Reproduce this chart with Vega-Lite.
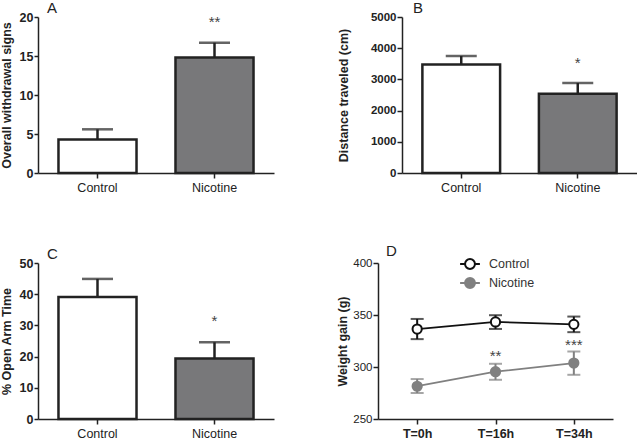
{
  "$schema": "https://vega.github.io/schema/vega-lite/v6.json",
  "padding": {"left": 0, "top": 1, "right": 0, "bottom": 0},
  "background": "white",
  "spacing": 50,
  "resolve": {"scale": {"stroke": "independent", "fill": "independent"}},
  "vconcat": [
    {
      "spacing": 63,
      "hconcat": [
        {
          "width": 236, "height": 156,
          "title": {"text": "A", "dx": 9},
          "data": {"values": [
            {"group": "Control", "mean": 4.3, "upper": 5.6},
            {"group": "Nicotine", "mean": 14.8, "upper": 16.7, "star": "**", "starY": 19.6}
          ]},
          "encoding": {"x": {"field": "group", "type": "nominal", "sort": null, "scale": {"paddingInner": 0.333, "paddingOuter": 0.175}, "axis": {"title": null}}},
          "layer": [
            {"mark": {"type": "rule", "strokeWidth": 2.5, "color": "#222"},
             "encoding": {"y": {"field": "mean", "type": "quantitative", "scale": {"domain": [0, 20], "nice": false}, "axis": {"title": "Overall withdrawal signs", "values": [0, 5, 10, 15, 20]}}, "y2": {"field": "upper"}}},
            {"mark": {"type": "tick", "size": 31, "thickness": 2.5, "color": "#222"},
             "encoding": {"y": {"field": "upper", "type": "quantitative", "axis": {"title": "Overall withdrawal signs", "values": [0, 5, 10, 15, 20]}}}},
            {"mark": {"type": "bar", "stroke": "#222", "strokeWidth": 2.5},
             "encoding": {
               "y": {"field": "mean", "type": "quantitative", "axis": {"title": "Overall withdrawal signs", "values": [0, 5, 10, 15, 20]}},
               "fill": {"condition": {"test": "datum.group === 'Nicotine'", "value": "#78787a"}, "value": "#ffffff"}
             }},
            {"mark": {"type": "text", "fontSize": 15, "color": "#444", "baseline": "middle", "dy": 2},
             "encoding": {"y": {"field": "starY", "type": "quantitative", "axis": {"title": "Overall withdrawal signs", "values": [0, 5, 10, 15, 20]}}, "text": {"field": "star"}}}
          ]
        },
        {
          "width": 235, "height": 156,
          "title": {"text": "B", "dx": 11},
          "data": {"values": [
            {"group": "Control", "mean": 3480, "upper": 3750},
            {"group": "Nicotine", "mean": 2540, "upper": 2885, "star": "*", "starY": 3600}
          ]},
          "encoding": {"x": {"field": "group", "type": "nominal", "sort": null, "scale": {"paddingInner": 0.333, "paddingOuter": 0.175}, "axis": {"title": null}}},
          "layer": [
            {"mark": {"type": "rule", "strokeWidth": 2.5, "color": "#222"},
             "encoding": {"y": {"field": "mean", "type": "quantitative", "scale": {"domain": [0, 5000], "nice": false}, "axis": {"title": "Distance traveled (cm)", "values": [0, 1000, 2000, 3000, 4000, 5000], "format": "d", "labelFontSize": 11.5, "tickSize": 5, "titlePadding": 20}}, "y2": {"field": "upper"}}},
            {"mark": {"type": "tick", "size": 31, "thickness": 2.5, "color": "#222"},
             "encoding": {"y": {"field": "upper", "type": "quantitative", "axis": {"title": "Distance traveled (cm)", "values": [0, 1000, 2000, 3000, 4000, 5000], "format": "d", "labelFontSize": 11.5, "tickSize": 5, "titlePadding": 20}}}},
            {"mark": {"type": "bar", "stroke": "#222", "strokeWidth": 2.5},
             "encoding": {
               "y": {"field": "mean", "type": "quantitative", "axis": {"title": "Distance traveled (cm)", "values": [0, 1000, 2000, 3000, 4000, 5000], "format": "d", "labelFontSize": 11.5, "tickSize": 5, "titlePadding": 20}},
               "fill": {"condition": {"test": "datum.group === 'Nicotine'", "value": "#78787a"}, "value": "#ffffff"}
             }},
            {"mark": {"type": "text", "fontSize": 15, "color": "#444", "baseline": "middle", "dy": 2},
             "encoding": {"y": {"field": "starY", "type": "quantitative", "axis": {"title": "Distance traveled (cm)", "values": [0, 1000, 2000, 3000, 4000, 5000], "format": "d", "labelFontSize": 11.5, "tickSize": 5, "titlePadding": 20}}, "text": {"field": "star"}}}
          ]
        }
      ]
    },
    {
      "spacing": 62,
      "resolve": {"scale": {"stroke": "independent", "fill": "independent"}},
      "hconcat": [
        {
          "width": 236, "height": 156,
          "title": {"text": "C", "dx": 9},
          "data": {"values": [
            {"group": "Control", "mean": 39.1, "upper": 44.9},
            {"group": "Nicotine", "mean": 19.4, "upper": 24.6, "star": "*", "starY": 32.1}
          ]},
          "encoding": {"x": {"field": "group", "type": "nominal", "sort": null, "scale": {"paddingInner": 0.333, "paddingOuter": 0.175}, "axis": {"title": null}}},
          "layer": [
            {"mark": {"type": "rule", "strokeWidth": 2.5, "color": "#222"},
             "encoding": {"y": {"field": "mean", "type": "quantitative", "scale": {"domain": [0, 50], "nice": false}, "axis": {"title": "% Open Arm Time", "values": [0, 10, 20, 30, 40, 50]}}, "y2": {"field": "upper"}}},
            {"mark": {"type": "tick", "size": 31, "thickness": 2.5, "color": "#222"},
             "encoding": {"y": {"field": "upper", "type": "quantitative", "axis": {"title": "% Open Arm Time", "values": [0, 10, 20, 30, 40, 50]}}}},
            {"mark": {"type": "bar", "stroke": "#222", "strokeWidth": 2.5},
             "encoding": {
               "y": {"field": "mean", "type": "quantitative", "axis": {"title": "% Open Arm Time", "values": [0, 10, 20, 30, 40, 50]}},
               "fill": {"condition": {"test": "datum.group === 'Nicotine'", "value": "#78787a"}, "value": "#ffffff"}
             }},
            {"mark": {"type": "text", "fontSize": 15, "color": "#444", "baseline": "middle", "dy": 2},
             "encoding": {"y": {"field": "starY", "type": "quantitative", "axis": {"title": "% Open Arm Time", "values": [0, 10, 20, 30, 40, 50]}}, "text": {"field": "star"}}}
          ]
        },
        {
          "width": 235, "height": 156,
          "title": {"text": "D", "dx": 8},
          "data": {"values": [
            {"time": "T=0h", "group": "Control", "mean": 336.5, "lo": 326.8, "hi": 346.2},
            {"time": "T=16h", "group": "Control", "mean": 343.3, "lo": 336.6, "hi": 349.8},
            {"time": "T=34h", "group": "Control", "mean": 341.0, "lo": 333.5, "hi": 348.5},
            {"time": "T=0h", "group": "Nicotine", "mean": 281.5, "lo": 275.0, "hi": 288.4},
            {"time": "T=16h", "group": "Nicotine", "mean": 295.5, "lo": 287.7, "hi": 303.1, "star": "**", "starY": 312.7},
            {"time": "T=34h", "group": "Nicotine", "mean": 303.8, "lo": 292.5, "hi": 314.9, "star": "***", "starY": 322.6}
          ]},
          "encoding": {"x": {"field": "time", "type": "ordinal", "sort": ["T=0h", "T=16h", "T=34h"], "scale": {"type": "point", "padding": 0.5}, "axis": {"title": null, "labelFontWeight": "bold"}}},
          "layer": [
            {"mark": {"type": "line", "strokeWidth": 1.8},
             "encoding": {
               "y": {"field": "mean", "type": "quantitative", "scale": {"domain": [250, 400], "nice": false, "zero": false}, "axis": {"title": "Weight gain (g)", "values": [250, 300, 350, 400], "labelFontWeight": "normal", "labelFontSize": 11.5, "tickSize": 5, "titlePadding": 3}},
               "stroke": {"field": "group", "type": "nominal", "scale": {"domain": ["Control", "Nicotine"], "range": ["#111111", "#808080"]},
                 "legend": {"title": null, "orient": "none", "legendX": 82, "legendY": -9, "symbolType": "M-1.1,0L-0.55,0M0.55,0L1.1,0M-0.55,0A0.55,0.55 0 1,1 0.55,0A0.55,0.55 0 1,1 -0.55,0Z", "symbolSize": 324, "symbolStrokeWidth": 2, "labelFontSize": 12.5, "labelFont": "Liberation Sans", "labelColor": "#333", "labelOffset": 9, "rowPadding": 0}}
             }},
            {"mark": {"type": "rule", "strokeWidth": 2},
             "encoding": {"y": {"field": "lo", "type": "quantitative"}, "y2": {"field": "hi"},
               "color": {"condition": {"test": "datum.group === 'Control'", "value": "#111111"}, "value": "#808080"}}},
            {"mark": {"type": "tick", "size": 13, "thickness": 2},
             "encoding": {"y": {"field": "lo", "type": "quantitative"},
               "color": {"condition": {"test": "datum.group === 'Control'", "value": "#111111"}, "value": "#808080"}}},
            {"mark": {"type": "tick", "size": 13, "thickness": 2},
             "encoding": {"y": {"field": "hi", "type": "quantitative"},
               "color": {"condition": {"test": "datum.group === 'Control'", "value": "#111111"}, "value": "#808080"}}},
            {"mark": {"type": "point", "shape": "circle", "size": 85, "strokeWidth": 2, "opacity": 1},
             "encoding": {
               "y": {"field": "mean", "type": "quantitative"},
               "stroke": {"field": "group", "type": "nominal"},
               "fill": {"field": "group", "type": "nominal", "scale": {"domain": ["Control", "Nicotine"], "range": ["#ffffff", "#808080"]},
                 "legend": {"title": null, "orient": "none", "legendX": 82, "legendY": -9, "symbolType": "M-1.1,0L-0.55,0M0.55,0L1.1,0M-0.55,0A0.55,0.55 0 1,1 0.55,0A0.55,0.55 0 1,1 -0.55,0Z", "symbolSize": 324, "symbolStrokeWidth": 2, "labelFontSize": 12.5, "labelFont": "Liberation Sans", "labelColor": "#333", "labelOffset": 9, "rowPadding": 0}}
             }},
            {"mark": {"type": "text", "fontSize": 15, "color": "#444", "baseline": "middle", "dy": 2},
             "encoding": {"y": {"field": "starY", "type": "quantitative"}, "text": {"field": "star"}}}
          ]
        }
      ]
    }
  ],
  "config": {
    "view": {"stroke": null},
    "font": "Liberation Sans",
    "axis": {"grid": false, "domainColor": "#222", "domainWidth": 1.5, "tickColor": "#222", "tickWidth": 1.5, "labelFont": "Liberation Sans", "labelFontSize": 12.5, "labelColor": "#222", "titleFont": "Liberation Sans", "titleFontSize": 12.5, "titleFontWeight": "bold", "titleColor": "#222"},
    "axisY": {"tickSize": 4, "labelPadding": 1, "labelFontWeight": "bold", "titlePadding": 6},
    "axisX": {"tickSize": 5, "labelPadding": 3, "labelAngle": 0},
    "title": {"font": "Liberation Sans", "fontSize": 15, "fontWeight": "normal", "anchor": "start", "frame": "group", "offset": -5, "color": "#222"}
  }
}
